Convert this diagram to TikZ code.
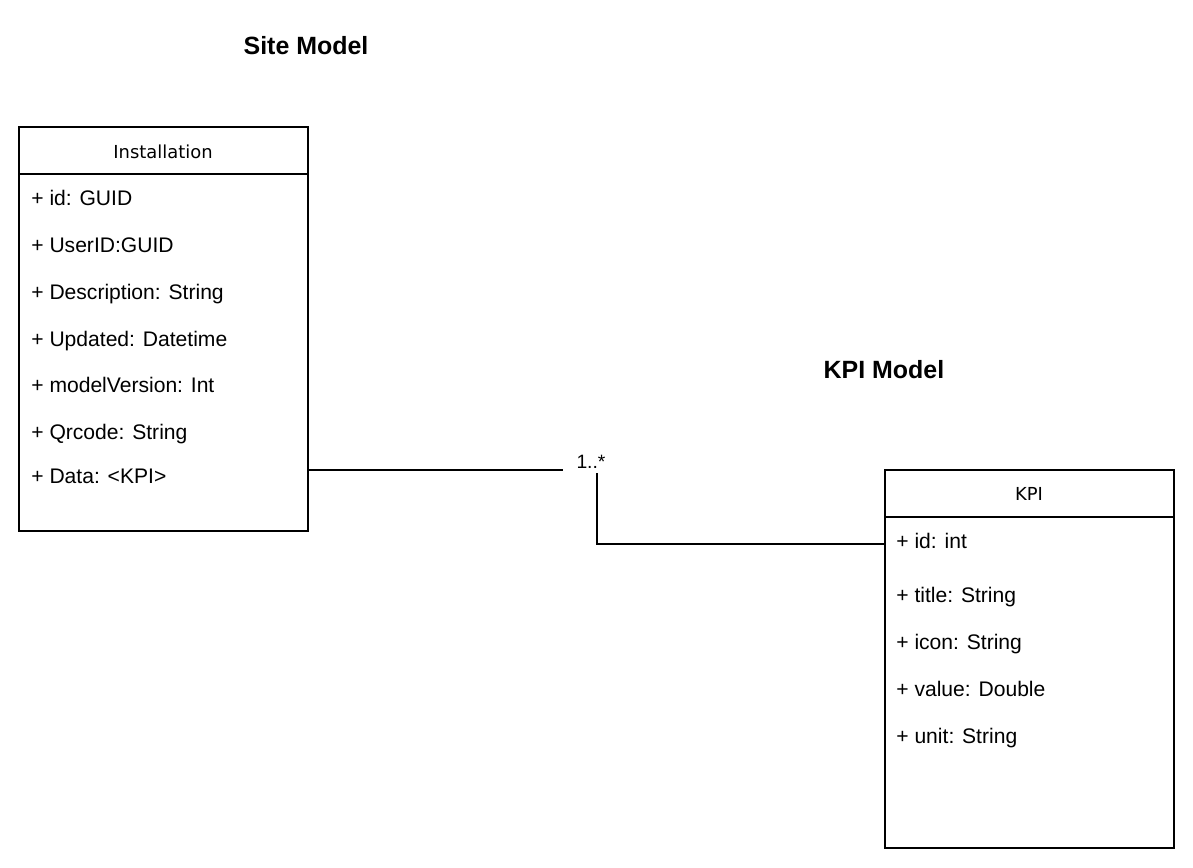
\documentclass[tikz,border=0pt]{standalone}
\usepackage{fontspec}
\setmainfont{Liberation Sans}
\newfontfamily\headfont{DejaVu Sans}
\usetikzlibrary{positioning}

\begin{document}
\begin{tikzpicture}[x=0.02cm,y=-0.02cm,
classline/.style = {line width=1pt,black},
attr/.style = {anchor=west,inner sep=0pt,text height=8.6pt,text depth=0pt,
        font=\fontsize{12}{14}\selectfont},
head/.style = {inner sep=0pt,font=\headfont\fontsize{10.2}{12}\selectfont},
title/.style = {inner sep=0pt,font=\bfseries\fontsize{14.2}{17}\selectfont}]

        \useasboundingbox (0,0) rectangle (1193,868);

        % Site Model
        \node[title] (SiteTitle) at (306,46) {Site Model};
        \coordinate (Inst_TL) at ( 19, 127 );
        \coordinate (Inst_BR) at ( 308, 531 );
        \coordinate (Inst_DL) at ( 19, 174 );
        \coordinate (Inst_DR) at ( 308, 174 );
        \draw[classline] (Inst_TL) rectangle (Inst_BR);
        \draw[classline] (Inst_DL) -- (Inst_DR);
        \node[head] (InstHead) at (163,152) {Installation};
        \node[attr] (Inst_id) at (31,198) {+ id: GUID};
        \node[attr] (Inst_user) at (31,245) {+ UserID:GUID};
        \node[attr] (Inst_desc) at (31,292) {+ Description: String};
        \node[attr] (Inst_upd) at (31,339) {+ Updated: Datetime};
        \node[attr] (Inst_ver) at (31,385) {+ modelVersion: Int};
        \node[attr] (Inst_qr) at (31,432) {+ Qrcode: String};
        \node[attr] (Inst_data) at (31,476) {+ Data: <KPI>};

        % KPI Model
        \node[title] (KPITitle) at (884,370) {KPI Model};
        \coordinate (KPI_TL) at ( 885, 470 );
        \coordinate (KPI_BR) at ( 1174, 848 );
        \coordinate (KPI_DL) at ( 885, 517 );
        \coordinate (KPI_DR) at ( 1174, 517 );
        \draw[classline] (KPI_TL) rectangle (KPI_BR);
        \draw[classline] (KPI_DL) -- (KPI_DR);
        \node[head] (KPIHead) at (1029,494) {KPI};
        \node[attr] (KPI_id) at (896,541) {+ id: int};
        \node[attr] (KPI_title) at (896,595) {+ title: String};
        \node[attr] (KPI_icon) at (896,642) {+ icon: String};
        \node[attr] (KPI_value) at (896,689) {+ value: Double};
        \node[attr] (KPI_unit) at (896,736) {+ unit: String};

        % association
        \coordinate (Inst_Conn) at ( 308, 470 );
        \coordinate (Assoc_L) at ( 563, 470 );
        \coordinate (Assoc_R) at ( 597, 473 );
        \coordinate (KPI_Conn) at ( 885, 544 );
        \draw[classline] (Inst_Conn) -- (Assoc_L);
        \draw[classline] (Assoc_R) |- (KPI_Conn);
        \node[inner sep=0pt,font=\fontsize{11}{13}\selectfont] (Mult) at (591,462) {1..*};

    \end{tikzpicture}
\end{document}
